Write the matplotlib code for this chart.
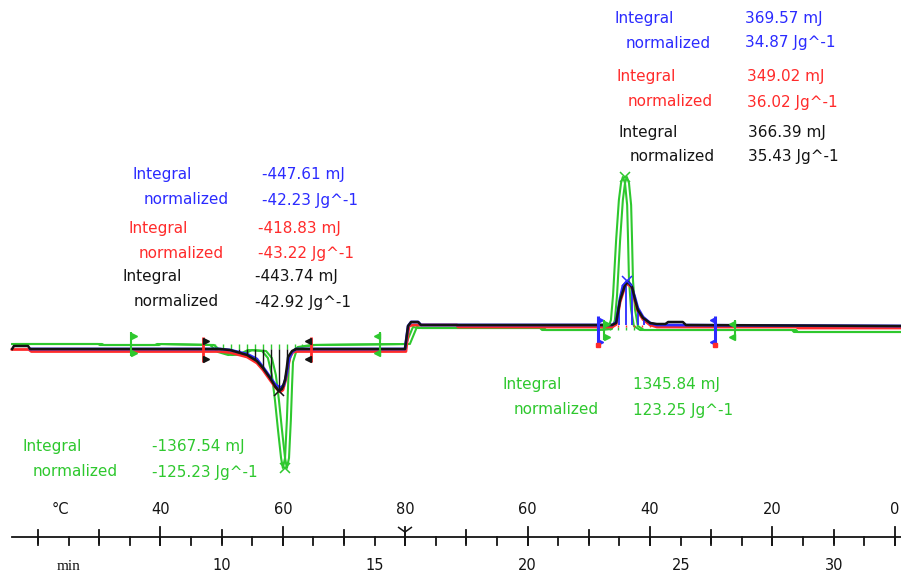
import numpy as np
import matplotlib
matplotlib.use('Agg')
import matplotlib.pyplot as plt

W, H = 901, 579

BLUE = '#2b2bff'
RED = '#ff2b2b'
GREEN = '#2ec82e'
BLACK = '#141414'

# heat flow traces: time in min, heat flow in mW
black_t = [3.15, 3.21, 3.67, 3.74, 9.94, 10.27, 10.83, 11.15, 11.35, 11.58, 11.74, 11.87,
           11.97, 12.07, 12.13, 12.17, 12.30, 12.43, 15.99, 16.09, 16.19, 16.42, 16.51,
           22.76, 22.89, 23.02, 23.18, 23.28, 23.41, 23.51, 23.60, 23.77, 24.00, 24.22,
           24.50, 24.59, 25.07, 25.17, 32.20]
black_hf = [0.0, 0.3, 0.3, 0.0, 0.0, -0.1, -0.6, -1.2, -1.9, -2.9, -3.7, -4.2,
            -4.0, -3.1, -1.8, -0.8, -0.2, 0.0, 0.0, 2.3, 2.7, 2.7, 2.4,
            2.4, 2.6, 4.9, 6.4, 6.7, 6.2, 4.9, 3.9, 3.1, 2.6, 2.5,
            2.5, 2.7, 2.7, 2.4, 2.3]

red_t = [3.15, 3.70, 3.78, 9.94, 10.27, 10.83, 11.15, 11.35, 11.58, 11.77, 11.91, 12.00,
         12.10, 12.17, 12.23, 12.33, 12.46, 16.02, 16.12, 16.25, 17.69, 17.72,
         22.76, 22.89, 23.02, 23.18, 23.28, 23.41, 23.51, 23.60, 23.77, 24.00, 24.22,
         28.80, 28.83, 32.20]
red_hf = [-0.05, -0.05, -0.25, -0.25, -0.35, -0.8, -1.4, -2.1, -3.1, -3.9, -4.3, -4.1,
          -3.0, -1.8, -0.8, -0.3, -0.25, -0.25, 2.3, 2.4, 2.4, 2.2,
          2.2, 2.45, 4.7, 6.25, 6.55, 6.05, 4.75, 3.75, 2.95, 2.4, 2.2,
          2.2, 2.1, 2.1]

blue_t = [3.74, 9.94, 10.27, 10.83, 11.15, 11.42, 11.58, 11.74, 11.91, 12.03, 12.13, 12.20,
          12.30, 12.43, 15.99, 16.09, 16.19, 16.42, 16.51, 22.76, 22.89, 23.02, 23.11,
          23.25, 23.38, 23.51, 23.60, 23.77, 24.00, 24.22, 32.20]
blue_hf = [0.0, 0.0, -0.1, -0.5, -1.0, -2.1, -2.8, -3.5, -3.9, -3.6, -2.4, -1.0,
           -0.3, 0.0, 0.0, 2.3, 2.7, 2.7, 2.4, 2.4, 2.7, 5.1, 6.3,
           6.8, 6.4, 5.1, 4.1, 3.2, 2.6, 2.4, 2.3]

green_t = [3.15, 5.96, 6.02, 7.82, 7.89, 9.62, 9.88, 10.21, 10.60, 10.86, 11.32, 11.51,
           11.64, 11.74, 11.84, 11.94, 12.00, 12.07, 12.13, 12.17, 12.20, 12.30, 12.49,
           12.92, 16.02, 16.25, 16.42, 20.40, 20.47, 22.20, 22.62, 22.72, 22.79, 22.89,
           22.98, 23.05, 23.11, 23.18, 23.25, 23.28, 23.31, 23.38, 23.47, 23.67, 28.64,
           28.70, 32.20]
green_hf = [0.5, 0.5, 0.4, 0.4, 0.5, 0.4, -0.3, -0.6, -0.5, -0.1, -0.2, -0.9,
            -2.6, -5.1, -8.1, -10.9, -11.9, -10.9, -7.1, -3.6, -1.3, -0.3, 0.2,
            0.4, 0.5, 2.2, 2.1, 2.1, 1.9, 1.9, 2.0, 2.9, 5.4, 10.9,
            14.9, 16.6, 17.2, 16.6, 14.4, 10.9, 6.9, 3.9, 2.3, 1.9, 1.9,
            1.7, 1.7]

# integration limits (min)
melt_limits = [9.39, 12.92]
melt_limits_green = [7.04, 15.17]
cryst_limits = [22.30, 26.12]
cryst_limits_green = [22.49, 26.77]

# integration results
result_colors = [BLUE, RED, BLACK, GREEN, BLUE, RED, BLACK, GREEN]
integral_mj = [-447.61, -418.83, -443.74, -1367.54, 369.57, 349.02, 366.39, 1345.84]
normalized_jg = [-42.23, -43.22, -42.92, -125.23, 34.87, 36.02, 35.43, 123.25]
# label block placement in pixels: x of "Integral", y of first row, x of values
result_pos = [(133, 175, 262), (128, 228, 258), (123, 277, 255), (22, 447, 152),
              (615, 18, 745), (617, 77, 747), (619, 132, 748), (503, 385, 633)]

# temperature program: 20 -> 80 C at 5 K/min from 4 min, then back to 0 C
heat_start, heat_T0, rate = 4.0, 20, 5.0
heat_temps = [20, 30, 40, 50, 60, 70, 80]
cool_temps = [70, 60, 50, 40, 30, 20, 10, 0]
temp_labels = [40, 60, 80]
cool_labels = [60, 40, 20, 0]
time_ticks = list(range(4, 33))
time_labels = [10, 15, 20, 25, 30]

fig = plt.figure(figsize=(W / 100, H / 100), dpi=100)
ax = fig.add_axes([0, 0, 1, 1])
ax.set_axis_off()
ax.set_xlim(2.755, 2.755 + W / 30.6)
ax.set_ylim(-23.0, 34.9)


def hatch(t, hf, t0, t1, base, step, color, clip=None, lw=1.0, z=1.5):
    xs = np.arange(t0 + step / 2, t1, step)
    ys = np.interp(xs, t, hf)
    if clip is not None:
        ys = np.clip(ys, min(base, clip), max(base, clip))
    ax.vlines(xs, base, ys, colors=color, lw=lw, zorder=z)


def limit(t, y, up, down, line_color, tri_color, side, lw=2.0, ms=5):
    ax.plot([t, t], [y - down, y + up], color=line_color, lw=lw, zorder=6,
            solid_capstyle='butt')
    m = '>' if side == 'left' else '<'
    dx = 0.09 if side == 'left' else -0.09
    ax.plot([t + dx, t + dx], [y + up - 0.35, y - down + 0.35], ls='none', marker=m,
            ms=ms, color=tri_color, zorder=6)


# hatched integration areas
hatch(green_t, green_hf, melt_limits[0], melt_limits[1], 0.5, 0.26, GREEN, clip=0.0, z=1.2)
hatch(black_t, black_hf, melt_limits[0], melt_limits[1], 0.0, 0.26, BLACK, lw=1.0, z=4.5)
hatch(green_t, green_hf, cryst_limits[0], cryst_limits[1], 1.9, 0.26, GREEN, clip=2.2, z=1.2)
hatch(red_t, red_hf, cryst_limits[0], cryst_limits[1], 2.2, 0.26, RED, clip=2.4, z=2.5)
hatch(blue_t, blue_hf, cryst_limits[0], cryst_limits[1], 2.4, 0.2, BLUE, lw=1.3, z=3.5)

# curves
gt = np.array(green_t)
ax.plot(gt, green_hf, color=GREEN, lw=1.5, zorder=2)
ax.plot(gt + 0.13, green_hf, color=GREEN, lw=1.5, zorder=2)
ax.plot(red_t, red_hf, color=RED, lw=2.0, zorder=3)
ax.plot(blue_t, blue_hf, color=BLUE, lw=2.0, zorder=4)
ax.plot(black_t, black_hf, color=BLACK, lw=1.8, zorder=5)

# integration limit markers
limit(melt_limits[0], 0.0, 1.2, 1.3, RED, BLACK, 'left')
limit(melt_limits[1], 0.0, 1.2, 1.3, RED, BLACK, 'right')
limit(melt_limits_green[0], 0.5, 1.2, 1.2, GREEN, GREEN, 'left', lw=1.5)
limit(melt_limits_green[1], 0.5, 1.2, 1.2, GREEN, GREEN, 'right', lw=1.5)
limit(cryst_limits[0], 2.4, 0.9, 2.0, BLUE, BLUE, 'left', lw=2.2, ms=3)
limit(cryst_limits[1], 2.4, 0.9, 2.0, BLUE, BLUE, 'right', lw=2.2, ms=3)
for tl in cryst_limits:
    ax.plot([tl], [2.4 - 2.0], marker='s', ms=2.5, color=RED, zorder=7)
limit(cryst_limits_green[0], 1.9, 1.0, 1.0, GREEN, GREEN, 'left', lw=1.5)
limit(cryst_limits_green[1], 1.9, 1.0, 1.0, GREEN, GREEN, 'right', lw=1.5)

# peak markers
for t, hf, lo, hi, c, fn in [(black_t, black_hf, *melt_limits, BLACK, np.argmin),
                             (green_t, green_hf, *melt_limits, GREEN, np.argmin),
                             (blue_t, blue_hf, *cryst_limits, BLUE, np.argmax),
                             (green_t, green_hf, *cryst_limits, GREEN, np.argmax)]:
    t = np.array(t)
    hf = np.array(hf)
    sel = (t > lo) & (t < hi)
    i = fn(hf[sel])
    shift = 0.065 if c == GREEN else 0.0
    ax.plot(t[sel][i] + shift, hf[sel][i], marker='x', ms=7, mew=1.1, color=c, zorder=8)

# result labels
for c, mj, nj, (x, y, xv) in zip(result_colors, integral_mj, normalized_jg, result_pos):
    kw = dict(color=c, fontsize=11, va='center', ha='left')
    fig.text(x / W, 1 - y / H, 'Integral', **kw)
    fig.text((x + 11) / W, 1 - (y + 25) / H, 'normalized', **kw)
    fig.text(xv / W, 1 - y / H, f'{mj:.2f} mJ', **kw)
    fig.text(xv / W, 1 - (y + 25) / H, f'{nj:.2f} Jg^-1', **kw)

# bottom scale: temperature above, time below
tr = ax.get_xaxis_transform()
line_y = 1 - 536.7 / H
ax.plot([3.15, ax.get_xlim()[1]], [line_y, line_y], color=BLACK, lw=1.3,
        transform=tr, clip_on=False)
for tt in time_ticks:
    ax.plot([tt, tt], [line_y, 1 - 545 / H], color=BLACK, lw=1.3, transform=tr)

heat_times = [heat_start + (T - heat_T0) / rate for T in heat_temps]
t_top = heat_times[-1]
cool_times = [t_top + (heat_temps[-1] - T) / rate for T in cool_temps]
for T, tt in list(zip(heat_temps, heat_times)) + list(zip(cool_temps, cool_times)):
    major = (T in temp_labels and tt <= t_top) or (T in cool_labels and tt > t_top)
    y0, y1 = (527, 545) if major else (530, 543)
    ax.plot([tt, tt], [1 - y0 / H, 1 - y1 / H], color=BLACK, lw=1.3, transform=tr)
    if major:
        ax.text(tt, 1 - 509 / H, str(T), transform=tr, ha='center', va='center',
                fontsize=10.5, color=BLACK)
ax.plot([t_top], [1 - 532 / H], marker='1', ms=13, mew=1.1, color=BLACK, transform=tr)
ax.text(4.72, 1 - 509 / H, '\u00b0C', transform=tr, ha='center', va='center',
        fontsize=10.5, color=BLACK)

for tt in time_labels:
    ax.text(tt, 1 - 565 / H, str(tt), transform=tr, ha='center', va='center',
            fontsize=10.5, color=BLACK)
ax.text(5.0, 1 - 566 / H, 'min', transform=tr, ha='center', va='center',
        fontsize=11, color=BLACK, family='Liberation Serif')

fig.savefig('out.png', dpi=100, facecolor='white')
